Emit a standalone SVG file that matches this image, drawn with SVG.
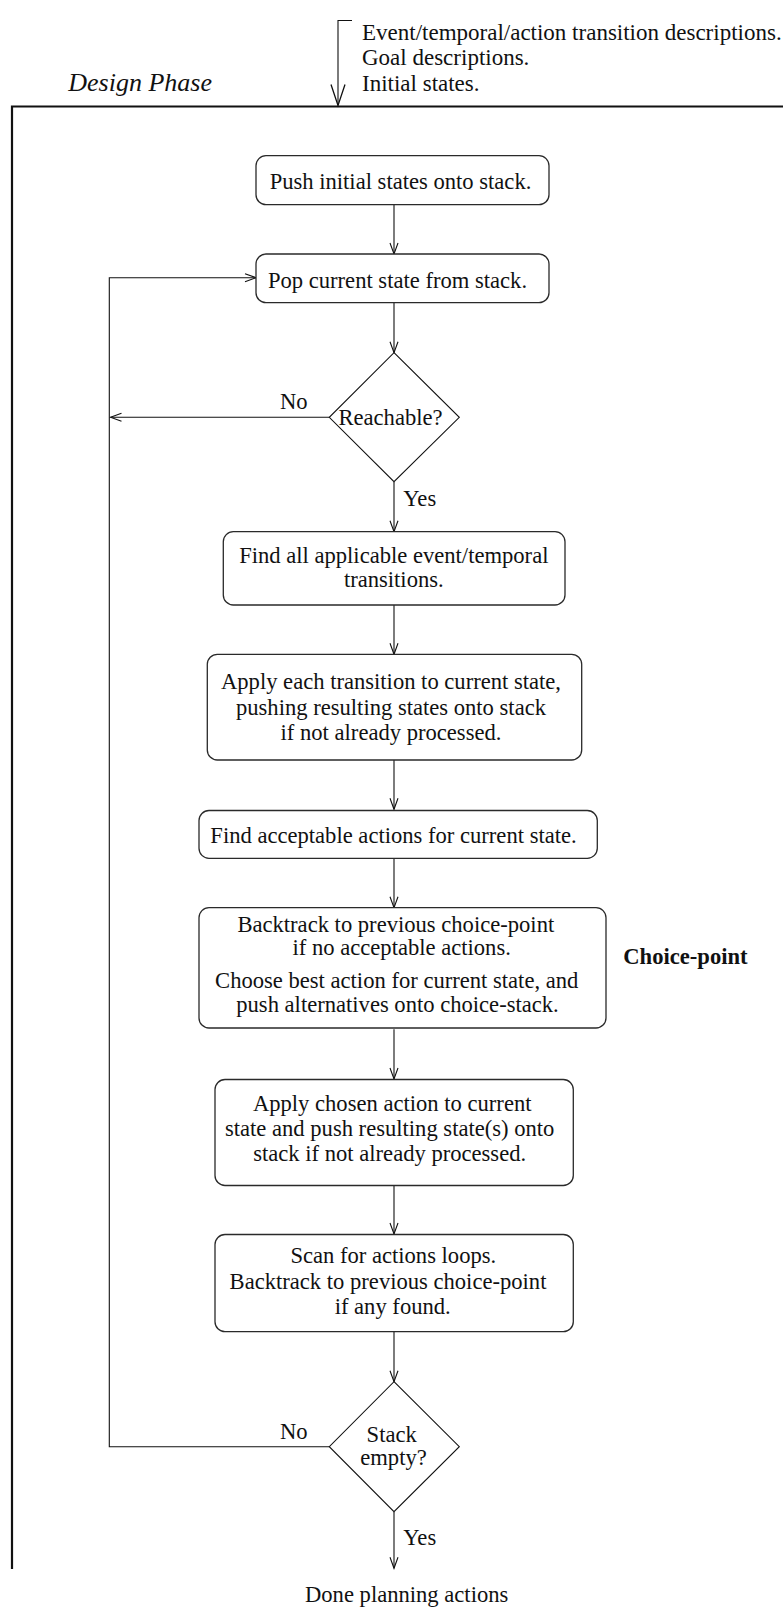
<svg xmlns="http://www.w3.org/2000/svg" width="783" height="1608" viewBox="0 0 783 1608">
  <style>
    text { font-family: "Liberation Serif", "Times New Roman", serif; font-size: 22.6px; fill: #111; }
    .c { text-anchor: middle; }
    .it { font-style: italic; font-size: 26px; }
    .b { font-weight: bold; }
    .in { font-size: 23px; }
    .box { fill: #fff; stroke: #2a2a2a; stroke-width: 1.3; }
    .dia { fill: #fff; stroke: #111; stroke-width: 1.1; }
    .ln { fill: none; stroke: #111; stroke-width: 1.1; }
    .frame { fill: none; stroke: #111; stroke-width: 2.2; }
  </style>
  <defs>
    <marker id="arr" markerUnits="userSpaceOnUse" markerWidth="14" markerHeight="10" refX="12" refY="5" orient="auto">
      <path d="M1,1 L12,5 L1,9" fill="none" stroke="#111" stroke-width="1.1"/>
    </marker>
    <marker id="arrBig" markerUnits="userSpaceOnUse" markerWidth="24" markerHeight="16" refX="22" refY="8" orient="auto">
      <path d="M1,1 L22,8 L1,15" fill="none" stroke="#111" stroke-width="1.3"/>
    </marker>
  </defs>

  <!-- phase frame and inputs -->
  <g id="frame">
    <path class="frame" d="M12,1569 L12,106.5 L783,106.5"/>
    <text class="it" x="68.3" y="90.5">Design Phase</text>
  </g>
  <g id="inputs">
    <text class="in" x="362" y="39.6">Event/temporal/action transition descriptions.</text>
    <text class="in" x="362" y="65.2">Goal descriptions.</text>
    <text class="in" x="362" y="90.8">Initial states.</text>
  </g>

  <!-- connectors -->
  <g id="connectors">
    <path class="ln" stroke-width="1.4" d="M352,20.5 L338,20.5 L338,105.5" marker-end="url(#arrBig)"/>
    <path class="ln" d="M394,204.7 L394,254" marker-end="url(#arr)"/>
    <path class="ln" d="M394,302.7 L394,352.7" marker-end="url(#arr)"/>
    <path class="ln" d="M394,481.7 L394,531.7" marker-end="url(#arr)"/>
    <path class="ln" d="M394,605 L394,654.3" marker-end="url(#arr)"/>
    <path class="ln" d="M394,760 L394,809.3" marker-end="url(#arr)"/>
    <path class="ln" d="M394,858.3 L394,907.7" marker-end="url(#arr)"/>
    <path class="ln" d="M394,1029.3 L394,1079" marker-end="url(#arr)"/>
    <path class="ln" d="M394,1185 L394,1234" marker-end="url(#arr)"/>
    <path class="ln" d="M394,1331.7 L394,1381.7" marker-end="url(#arr)"/>
    <path class="ln" d="M394,1511.7 L394,1568.3" marker-end="url(#arr)"/>
    <!-- "No" branches -->
    <path class="ln" d="M329.3,417.3 L110.5,417.3" marker-end="url(#arr)"/>
    <path class="ln" d="M329.3,1446.7 L109.3,1446.7 L109.3,277.7 L256,277.7" marker-end="url(#arr)"/>
    <text x="280" y="409">No</text>
    <text x="403.3" y="505.7">Yes</text>
    <text x="280" y="1439">No</text>
    <text x="403.3" y="1545">Yes</text>
  </g>

  <g id="push">
    <rect class="box" x="256" y="155.7" width="293" height="49" rx="10"/>
    <text class="c" x="400.5" y="189.3">Push initial states onto stack.</text>
  </g>
  <g id="pop">
    <rect class="box" x="256" y="254" width="293" height="48.7" rx="10"/>
    <text class="c" x="397.5" y="287.7">Pop current state from stack.</text>
  </g>
  <g id="reachable">
    <polygon class="dia" points="394,352.7 459.3,417.3 394,481.7 329.3,417.3"/>
    <text class="c" x="390.5" y="425">Reachable?</text>
  </g>
  <g id="find-transitions">
    <rect class="box" x="223.3" y="531.7" width="341.7" height="73.3" rx="10"/>
    <text class="c" x="393.8" y="562.7">Find all applicable event/temporal</text>
    <text class="c" x="393.8" y="587.3">transitions.</text>
  </g>
  <g id="apply-transitions">
    <rect class="box" x="207.3" y="654.3" width="374.4" height="105.7" rx="10"/>
    <text class="c" x="391" y="689">Apply each transition to current state,</text>
    <text class="c" x="391" y="715">pushing resulting states onto stack</text>
    <text class="c" x="391" y="740">if not already processed.</text>
  </g>
  <g id="find-actions">
    <rect class="box" x="199" y="810.5" width="398.3" height="47.8" rx="10"/>
    <text class="c" x="393.5" y="843.3">Find acceptable actions for current state.</text>
  </g>
  <g id="choose-action">
    <rect class="box" x="199" y="907.7" width="407" height="120.3" rx="10"/>
    <text class="c" x="395.8" y="931.7">Backtrack to previous choice-point</text>
    <text class="c" x="401.7" y="955">if no acceptable actions.</text>
    <text class="c" x="396.7" y="988.3">Choose best action for current state, and</text>
    <text class="c" x="397.5" y="1011.7">push alternatives onto choice-stack.</text>
    <text class="b" x="623.3" y="964">Choice-point</text>
  </g>
  <g id="apply-action">
    <rect class="box" x="215" y="1079.5" width="358.3" height="106" rx="10"/>
    <text class="c" x="392.2" y="1110.5">Apply chosen action to current</text>
    <text class="c" x="389.7" y="1135.5">state and push resulting state(s) onto</text>
    <text class="c" x="389.7" y="1160.5">stack if not already processed.</text>
  </g>
  <g id="scan-loops">
    <rect class="box" x="215" y="1234.5" width="358.3" height="97.2" rx="10"/>
    <text class="c" x="393.3" y="1263">Scan for actions loops.</text>
    <text class="c" x="388" y="1288.5">Backtrack to previous choice-point</text>
    <text class="c" x="392.7" y="1313.5">if any found.</text>
  </g>
  <g id="stack-empty">
    <polygon class="dia" points="394,1381.7 459.3,1446.7 394,1511.7 329.3,1446.7"/>
    <text class="c" x="391.7" y="1442">Stack</text>
    <text class="c" x="393.5" y="1465">empty?</text>
  </g>
  <g id="done">
    <text x="305" y="1601.7">Done planning actions</text>
  </g>
</svg>
